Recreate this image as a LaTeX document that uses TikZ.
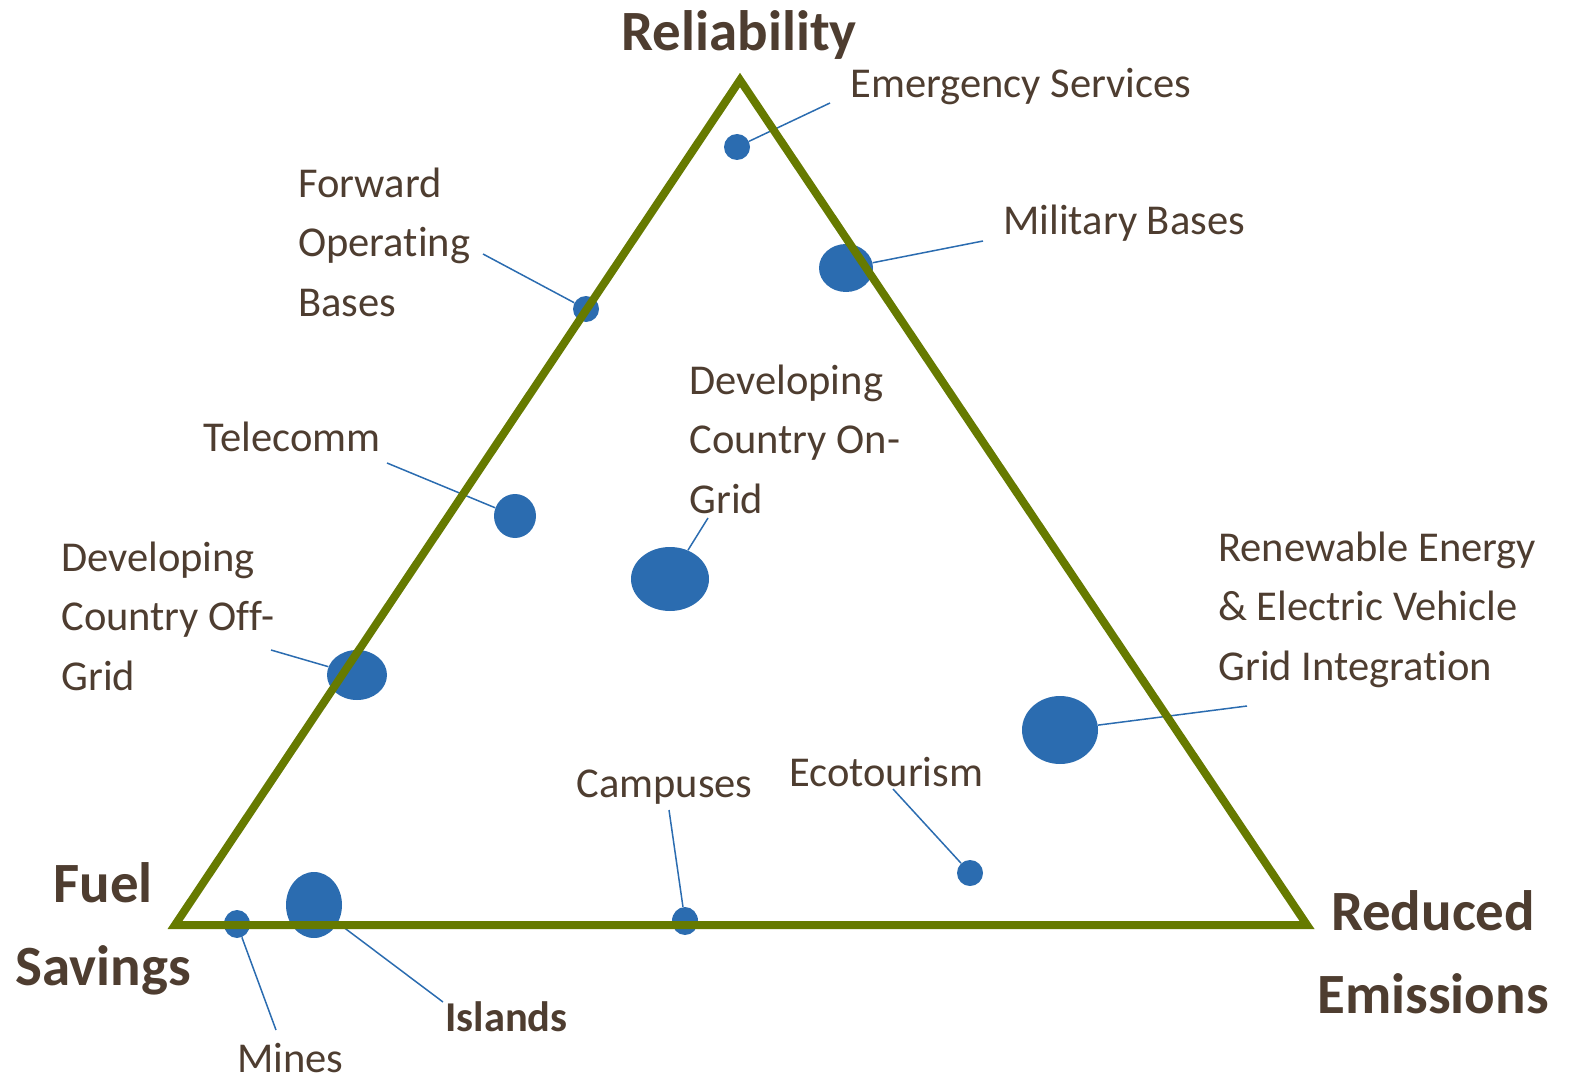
\documentclass[tikz,border=0pt]{standalone}
\usepackage{xcolor}
\usepackage{fontspec}
\setmainfont{Carlito}[Ligatures=NoCommon]
\usetikzlibrary{shapes.geometric}
\definecolor{brun}{RGB}{78,61,48}
\definecolor{olive}{RGB}{102,122,0}
\definecolor{bleu}{RGB}{43,108,176}

\begin{document}
\begin{tikzpicture}[x=0.02cm,y=-0.02cm]
% Styles
\tikzstyle{cadre}=[draw=olive,line width=0.16cm,line join=miter]
\tikzstyle{pastille}=[fill=bleu,ellipse,inner sep=0pt]
\tikzstyle{trait}=[draw=bleu,line width=0.03cm]
\tikzstyle{texte}=[brun,inner sep=0pt,anchor=base west,align=left,font=\fontsize{24.2}{33.6}\selectfont]
\tikzstyle{sommet}=[brun,inner sep=0pt,anchor=base,align=center,font=\fontsize{32.4}{46.7}\selectfont\bfseries]
% Dimensions
\def\px{0.02cm}
\useasboundingbox (0,0) rectangle (1571,1081);
% Pastilles
\node[pastille,minimum width=26*\px,minimum height=26*\px] (Urg) at (737,147) {};
\node[pastille,minimum width=54*\px,minimum height=48*\px] (Mil) at (846,268) {};
\node[pastille,minimum width=26*\px,minimum height=26*\px] (Fob) at (586,309) {};
\node[pastille,minimum width=42*\px,minimum height=44*\px] (Tel) at (515,516) {};
\node[pastille,minimum width=78*\px,minimum height=64*\px] (On) at (670,579) {};
\node[pastille,minimum width=60*\px,minimum height=50*\px] (Off) at (357,675) {};
\node[pastille,minimum width=76*\px,minimum height=68*\px] (Ren) at (1060,730) {};
\node[pastille,minimum width=26*\px,minimum height=26*\px] (Eco) at (970,873) {};
\node[pastille,minimum width=26*\px,minimum height=28*\px] (Cam) at (685,921) {};
\node[pastille,minimum width=56*\px,minimum height=66*\px] (Ile) at (314,905) {};
\node[pastille,minimum width=26*\px,minimum height=28*\px] (Min) at (237,924) {};
% Bouts des traits
\coordinate (Urga) at (830,103);
\coordinate (Mila) at (983,241);
\coordinate (Foba) at (483,254);
\coordinate (Tela) at (387,463);
\coordinate (Ona) at (708,518);
\coordinate (Offa) at (271,650);
\coordinate (Rena) at (1247,706);
\coordinate (Ecoa) at (893,789);
\coordinate (Cama) at (669,810);
\coordinate (Ilea) at (443,1002);
\coordinate (Mina) at (276,1030);
% Traits
\draw[trait] (Urg)--(Urga);
\draw[trait] (Mil)--(Mila);
\draw[trait] (Fob)--(Foba);
\draw[trait] (Tel)--(Tela);
\draw[trait] (On)--(Ona);
\draw[trait] (Off)--(Offa);
\draw[trait] (Ren)--(Rena);
\draw[trait] (Eco)--(Ecoa);
\draw[trait] (Cam)--(Cama);
\draw[trait] (Ile)--(Ilea);
\draw[trait] (Min)--(Mina);
% Triangle
\coordinate (Haut) at (740,80);
\coordinate (Gauche) at (175,925);
\coordinate (Droite) at (1307,925);
\draw[cadre] (Haut)--(Gauche)--(Droite)--cycle;
% Sommets
\node[sommet] (Fiab) at (739,51) {Reliability};
\node[sommet] (Carb) at (103,985) {Fuel\\Savings};
\node[sommet] (Emis) at (1433,1013) {Reduced\\Emissions};
% Textes
\node[texte] (UrgT) at (850,98) {Emergency Services};
\node[texte] (MilT) at (1003,235) {Military Bases};
\node[texte] (FobT) at (298,316) {Forward\\Operating\\Bases};
\node[texte] (TelT) at (203,451) {Telecomm};
\node[texte] (OnT) at (689,513) {Developing\\Country On-\\Grid};
\node[texte] (OffT) at (61,690) {Developing\\Country Off-\\Grid};
\node[texte] (RenT) at (1218,680) {Renewable Energy\\\& Electric Vehicle\\Grid Integration};
\node[texte] (EcoT) at (789,786) {Ecotourism};
\node[texte] (CamT) at (576,797) {Campuses};
\node[texte,font=\fontsize{24.2}{33.6}\selectfont\bfseries] (IleT) at (445,1031) {Islands};
\node[texte] (MinT) at (237,1072) {Mines};
\end{tikzpicture}
\end{document}
